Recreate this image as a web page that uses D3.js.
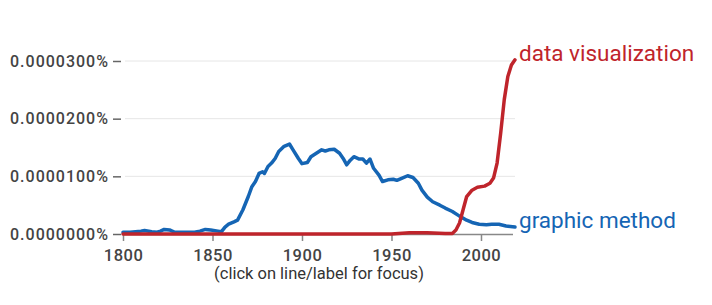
<!DOCTYPE html>
<html>
<head>
<meta charset="utf-8">
<script src="https://cdn.jsdelivr.net/npm/d3@7"></script>
<style>
body{margin:0;background:#fff;}
text{font-family:Roboto,"Noto Sans",sans-serif;}
</style>
</head>
<body>
<div class="chart"></div>
<script>
// values are in units of 0.0000100%
const gmYears=[1800,1804,1807,1810,1812,1816,1819,1821,1823,1826,1829,1834,1840,1843,1846,1849,1853,1855,1857,1859,1862,1864,1867,1870,1872,1874,1876,1878,1879,1881,1883,1885,1887,1890,1893,1895,1898,1900,1903,1905,1908,1911,1913,1915,1918,1921,1923,1925,1927,1929,1932,1934,1936,1938,1940,1943,1945,1948,1951,1953,1956,1959,1962,1965,1967,1970,1973,1977,1980,1984,1988,1992,1995,1999,2003,2006,2010,2014,2019];
const gmValues=[0.03,0.03,0.04,0.05,0.06,0.04,0.03,0.05,0.08,0.07,0.03,0.03,0.03,0.05,0.08,0.07,0.05,0.04,0.12,0.17,0.21,0.24,0.42,0.65,0.82,0.91,1.05,1.08,1.05,1.17,1.23,1.31,1.43,1.52,1.56,1.46,1.31,1.22,1.24,1.34,1.40,1.46,1.44,1.46,1.47,1.40,1.31,1.20,1.28,1.34,1.30,1.30,1.23,1.30,1.14,1.02,0.91,0.94,0.95,0.93,0.97,1.01,0.98,0.88,0.76,0.64,0.56,0.50,0.45,0.39,0.31,0.24,0.20,0.17,0.16,0.17,0.17,0.14,0.12];
const dvYears=[1800,1950,1960,1970,1980,1984,1986,1988,1990,1992,1995,1998,2002,2005,2007,2009,2011,2013,2015,2017,2019];
const dvValues=[0,0,0.02,0.02,0.01,0.01,0.07,0.19,0.42,0.65,0.76,0.81,0.83,0.88,0.97,1.23,1.75,2.33,2.73,2.93,3.02];
const yTicks=[0,1,2,3];
const yTickLabels=['0.0000000%','0.0000100%','0.0000200%','0.0000300%'];
const xTicks=[1800,1850,1900,1950,2000];

const series=[
  {name:'graphic method',years:gmYears,values:gmValues,color:'#1565b4'},
  {name:'data visualization',years:dvYears,values:dvValues,color:'#bf242b'}
];

const width=712, height=305;
const svg=d3.select('.chart').append('svg').attr('width',width).attr('height',height);

const x=d3.scaleLinear().domain([1800,2019]).range([123,515]);
const y=d3.scaleLinear().domain([0,3]).range([234,61]);

// grid
svg.append('g').selectAll('line').data(yTicks.slice(1)).join('line')
  .attr('x1',125).attr('x2',515)
  .attr('y1',d=>y(d)).attr('y2',d=>y(d))
  .attr('stroke','#e6e6e6').attr('stroke-width',1);

// y axis
const yAxis=d3.axisLeft(y).tickValues(yTicks).tickSize(8).tickPadding(4)
  .tickFormat((d,i)=>yTickLabels[i]);
const yg=svg.append('g').attr('transform','translate(121,0)').call(yAxis);
yg.select('.domain').remove();
yg.selectAll('.tick line').attr('stroke','#666').attr('stroke-width',1.5);
yg.selectAll('.tick text').attr('fill','#444').style('font-size','16px')
  .style('letter-spacing','1px').style('font-weight','500');

// x axis
const xAxis=d3.axisBottom(x).tickValues(xTicks).tickSize(7).tickSizeOuter(0).tickPadding(8)
  .tickFormat(d3.format('d'));
const xg=svg.append('g').attr('transform','translate(0,234)').call(xAxis);
xg.select('.domain').attr('stroke','#888').attr('stroke-width',1.5).attr('d','M123,0.5H513');
xg.selectAll('.tick line').attr('stroke','#888').attr('stroke-width',1.5);
xg.selectAll('.tick text').attr('fill','#444').style('font-size','16.5px')
  .style('letter-spacing','0.5px').style('font-weight','500');

svg.append('text').attr('x',319).attr('y',279).attr('text-anchor','middle')
  .attr('fill','#333').style('font-size','16.5px')
  .text('(click on line/label for focus)');

// lines
const line=d3.line().x(d=>x(d[0])).y(d=>y(d[1]));
svg.append('g').selectAll('path').data(series).join('path')
  .attr('d',s=>line(d3.zip(s.years,s.values)))
  .attr('fill','none').attr('stroke',s=>s.color)
  .attr('stroke-width',3.5).attr('stroke-linejoin','round').attr('stroke-linecap','round');

// series labels
svg.append('g').selectAll('text').data(series).join('text')
  .attr('x',s=>x(s.years[s.years.length-1])+4)
  .attr('y',s=>y(s.values[s.values.length-1]))
  .attr('dy','0.05em')
  .attr('fill',s=>s.color).style('font-size','22.5px')
  .text(s=>s.name);
</script>
</body>
</html>
